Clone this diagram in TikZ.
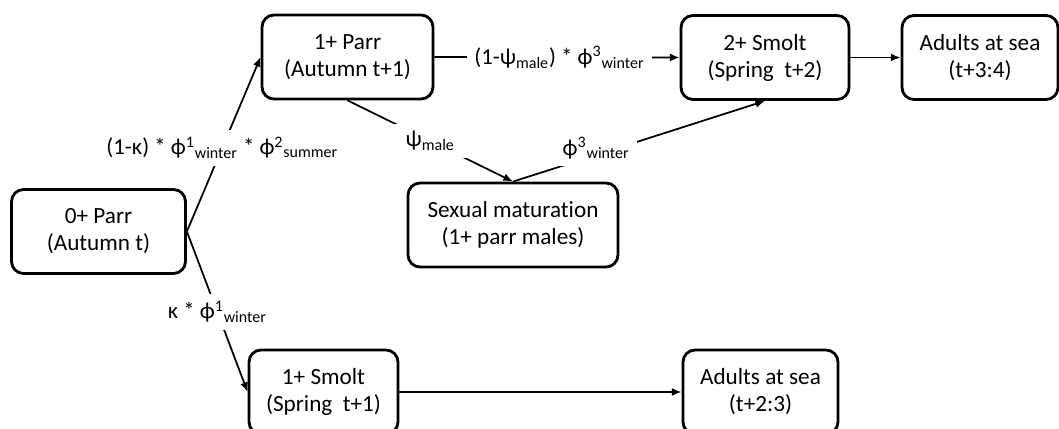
\documentclass[tikz,border=0pt]{standalone}
\usepackage{fontspec}
\setmainfont{Carlito}[Ligatures={TeX,NoCommon}]
\usetikzlibrary{arrows.meta,positioning}

\begin{document}
\begin{tikzpicture}[
        x=0.02cm, y=-0.02cm,
        stage/.style={rectangle, draw, rounded corners=0.24cm, line width=1.6pt, align=center, minimum height=1.68cm, inner sep=0pt, font=\fontsize{13.2}{15.4}\selectfont},
        flow/.style={-{Latex[length=5.5pt,width=4.5pt]}, line width=1pt},
        rate/.style={fill=white, inner sep=4pt, font=\fontsize{13}{15.3}\selectfont}
    ]
    \useasboundingbox (0,0) rectangle (1059,429);
    \clip (0,0) rectangle (1059,429);

    % Freshwater stages
    \node[stage, minimum width=3.48cm] (parr0) at (98.5,231.5) {0+ Parr\\(Autumn t)};
    \node[stage, minimum width=3.42cm] (parr1) at (347.5,57) {1+ Parr\\(Autumn t+1)};
    \node[stage, minimum width=4.2cm] (mature) at (513,225) {Sexual maturation\\(1+ parr males)};

    % Smolts
    \node[stage, minimum width=3.36cm] (smolt2) at (765,57.5) {2+ Smolt\\(Spring~ t+2)};
    \node[stage, minimum width=2.98cm] (smolt1) at (323.5,392) {1+ Smolt\\(Spring~ t+1)};

    % Sea
    \node[stage, minimum width=3.12cm] (sea3) at (980,57.5) {Adults at sea\\(t+3:4)};
    \node[stage, minimum width=3.1cm] (sea2) at (760.5,392) {Adults at sea\\(t+2:3)};

    % Transitions
    \draw[flow] (parr0.east) -- (parr1.west)
        node[rate, pos=0.48] (r1) {(1-κ) * ϕ\textsuperscript{1}\textsubscript{winter} * ϕ\textsuperscript{2}\textsubscript{summer}};
    \draw[flow] (parr0.east) -- (smolt1.west)
        node[rate, pos=0.5] (r2) {κ * ϕ\textsuperscript{1}\textsubscript{winter}};
    \draw[flow] (parr1.east) -- (smolt2.west)
        node[rate, pos=0.51] (r3) {(1-ψ\textsubscript{male}) * ϕ\textsuperscript{3}\textsubscript{winter}};
    \draw[flow] (parr1.south) -- (mature.north)
        node[rate, pos=0.5, inner xsep=8pt] (r4) {ψ\textsubscript{male}};
    \draw[flow] (mature.north) -- (smolt2.south)
        node[rate, pos=0.33, yshift=4pt] (r5) {ϕ\textsuperscript{3}\textsubscript{winter}};
    \draw[flow] (smolt2.east) -- (sea3.west);
    \draw[flow] (smolt1.east) -- (sea2.west);

\end{tikzpicture}
\end{document}
